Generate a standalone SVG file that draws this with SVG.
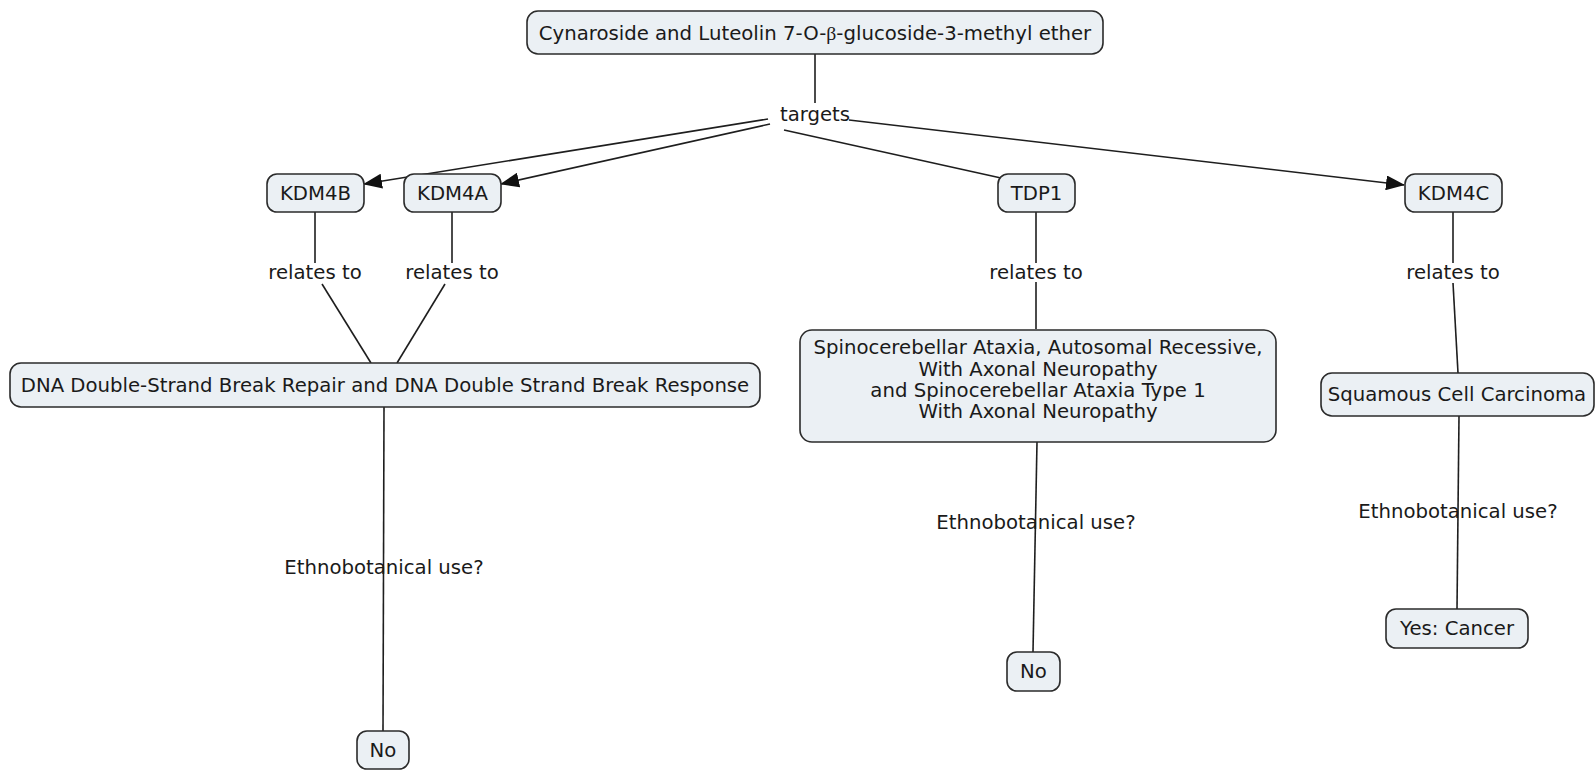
<svg xmlns="http://www.w3.org/2000/svg" width="1595" height="770" viewBox="0 0 1595 770">
  <style>
    .box { fill: #ebf0f4; stroke: #2b2b2b; stroke-width: 1.6; }
    .lbl { font-family: "DejaVu Sans", Verdana, sans-serif; font-size: 19.7px; fill: #1a1a1a; text-anchor: middle; dominant-baseline: central; }
    .edge { fill: none; stroke: #1e1e1e; stroke-width: 1.6; }
  </style>
  <defs>
    <marker id="arrow" markerWidth="19" markerHeight="15" refX="18" refY="7.5" orient="auto" markerUnits="userSpaceOnUse">
      <path d="M0,0 L19,7.5 L0,15 Z" fill="#111"/>
    </marker>
  </defs>
  <rect width="1595" height="770" fill="#ffffff"/>

  <!-- connectors -->
  <g id="connectors">
    <line class="edge" x1="815" y1="54" x2="815" y2="103"/>
    <line class="edge" x1="768" y1="119" x2="364" y2="184" marker-end="url(#arrow)"/>
    <line class="edge" x1="770" y1="124" x2="501" y2="184" marker-end="url(#arrow)"/>
    <line class="edge" x1="784" y1="130" x2="1001" y2="178"/>
    <line class="edge" x1="849" y1="120" x2="1404" y2="185" marker-end="url(#arrow)"/>

    <line class="edge" x1="315" y1="212" x2="315" y2="263"/>
    <line class="edge" x1="322" y1="284" x2="371" y2="363"/>
    <line class="edge" x1="452" y1="212" x2="452" y2="263"/>
    <line class="edge" x1="445" y1="284" x2="397" y2="363"/>

    <line class="edge" x1="1036" y1="212" x2="1036" y2="263"/>
    <line class="edge" x1="1036" y1="282" x2="1036" y2="329"/>

    <line class="edge" x1="1453" y1="212" x2="1453" y2="263"/>
    <line class="edge" x1="1453" y1="283" x2="1458" y2="373"/>

    <line class="edge" x1="384" y1="407" x2="383" y2="731"/>
    <line class="edge" x1="1037" y1="442" x2="1033" y2="652"/>
    <line class="edge" x1="1459" y1="416" x2="1457" y2="609"/>

    <!-- linking phrases -->
    <text class="lbl" x="815" y="114">targets</text>
    <text class="lbl" x="315" y="272">relates to</text>
    <text class="lbl" x="452" y="272">relates to</text>
    <text class="lbl" x="1036" y="272">relates to</text>
    <text class="lbl" x="1453" y="272">relates to</text>
    <text class="lbl" x="384" y="567">Ethnobotanical use?</text>
    <text class="lbl" x="1036" y="522">Ethnobotanical use?</text>
    <text class="lbl" x="1458" y="511">Ethnobotanical use?</text>
  </g>

  <!-- concepts -->
  <g id="node-compound">
    <rect class="box" x="527" y="11" width="576" height="43" rx="11"/>
    <text class="lbl" x="815" y="33">Cynaroside and Luteolin 7-O-<tspan font-family="'Liberation Serif', serif">β</tspan>-glucoside-3-methyl ether</text>
  </g>
  <g id="node-kdm4b">
    <rect class="box" x="267" y="174" width="97" height="38" rx="10"/>
    <text class="lbl" x="315.5" y="193">KDM4B</text>
  </g>
  <g id="node-kdm4a">
    <rect class="box" x="404" y="174" width="97" height="38" rx="10"/>
    <text class="lbl" x="452.5" y="193">KDM4A</text>
  </g>
  <g id="node-tdp1">
    <rect class="box" x="998" y="174" width="77" height="38" rx="10"/>
    <text class="lbl" x="1036.5" y="193">TDP1</text>
  </g>
  <g id="node-kdm4c">
    <rect class="box" x="1405" y="174" width="97" height="38" rx="10"/>
    <text class="lbl" x="1453.5" y="193">KDM4C</text>
  </g>
  <g id="node-dsb">
    <rect class="box" x="10" y="363" width="750" height="44" rx="11"/>
    <text class="lbl" x="385" y="385">DNA Double-Strand Break Repair and DNA Double Strand Break Response</text>
  </g>
  <g id="node-ataxia">
    <rect class="box" x="800" y="330" width="476" height="112" rx="12"/>
    <text class="lbl" x="1038" y="347">Spinocerebellar Ataxia, Autosomal Recessive,</text>
    <text class="lbl" x="1038" y="369">With Axonal Neuropathy</text>
    <text class="lbl" x="1038" y="390">and Spinocerebellar Ataxia Type 1</text>
    <text class="lbl" x="1038" y="411">With Axonal Neuropathy</text>
  </g>
  <g id="node-scc">
    <rect class="box" x="1321" y="373" width="273" height="43" rx="11"/>
    <text class="lbl" x="1457" y="394">Squamous Cell Carcinoma</text>
  </g>
  <g id="node-no-left">
    <rect class="box" x="357" y="731" width="52" height="38" rx="10"/>
    <text class="lbl" x="383" y="750">No</text>
  </g>
  <g id="node-no-mid">
    <rect class="box" x="1007" y="652" width="53" height="39" rx="10"/>
    <text class="lbl" x="1033.5" y="671">No</text>
  </g>
  <g id="node-yes">
    <rect class="box" x="1386" y="609" width="142" height="39" rx="10"/>
    <text class="lbl" x="1457" y="628">Yes: Cancer</text>
  </g>
</svg>
